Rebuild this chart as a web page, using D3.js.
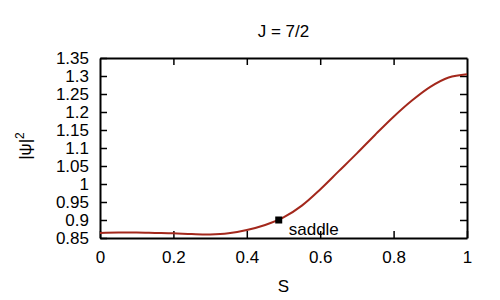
<!DOCTYPE html>
<html>
<head>
<meta charset="utf-8">
<script src="https://cdn.jsdelivr.net/npm/d3@7"></script>
<style>
  body { margin: 0; background: #fff; }
  text { font-family: "Liberation Sans", Arial, sans-serif; fill: #000; }
</style>
</head>
<body>
<div id="chart"></div>
<script>
const sValues = [0, 0.05, 0.1, 0.15, 0.2, 0.25, 0.3, 0.35, 0.4, 0.45, 0.5, 0.55, 0.6, 0.65, 0.7, 0.75, 0.8, 0.85, 0.9, 0.95, 1.0];
const psiValues = [0.864, 0.865, 0.865, 0.864, 0.863, 0.861, 0.860, 0.863, 0.872, 0.886, 0.907, 0.940, 0.985, 1.035, 1.085, 1.137, 1.187, 1.232, 1.270, 1.296, 1.305];
const saddle = [0.487, 0.9];
const xTicks = [0, 0.2, 0.4, 0.6, 0.8, 1];
const yTicks = [0.85, 0.9, 0.95, 1, 1.05, 1.1, 1.15, 1.2, 1.25, 1.3, 1.35];

const data = sValues.map((s, i) => ({s: s, v: psiValues[i]}));

const dimensions = {
    width: 500,
    height: 300,
    margin: {left: 100, right: 33, top: 58, bottom: 62},
};
dimensions.boundedWidth = dimensions.width - dimensions.margin.left - dimensions.margin.right;
dimensions.boundedHeight = dimensions.height - dimensions.margin.top - dimensions.margin.bottom;

const svg = d3.select("#chart").append("svg")
    .attr("width", dimensions.width)
    .attr("height", dimensions.height);

const bounds = svg.append("g")
    .attr("transform", `translate(${dimensions.margin.left},${dimensions.margin.top})`);

const xScale = d3.scaleLinear().domain([0, 1]).range([0, dimensions.boundedWidth]);
const yScale = d3.scaleLinear().domain([0.85, 1.35]).range([dimensions.boundedHeight, 0]);

const tickLen = 7;
const fontSize = 17;
const fmt = d => String(d);

// axes with inward ticks on all four sides
const xBottom = bounds.append("g")
    .attr("transform", `translate(0,${dimensions.boundedHeight})`)
    .call(d3.axisBottom(xScale).tickValues(xTicks).tickFormat(fmt).tickSizeInner(-tickLen).tickSizeOuter(0).tickPadding(13));
const xTop = bounds.append("g")
    .call(d3.axisTop(xScale).tickValues(xTicks).tickFormat("").tickSizeInner(-tickLen).tickSizeOuter(0));
const yLeft = bounds.append("g")
    .call(d3.axisLeft(yScale).tickValues(yTicks).tickFormat(fmt).tickSizeInner(-tickLen).tickSizeOuter(0).tickPadding(11));
const yRight = bounds.append("g")
    .attr("transform", `translate(${dimensions.boundedWidth},0)`)
    .call(d3.axisRight(yScale).tickValues(yTicks).tickFormat("").tickSizeInner(-tickLen).tickSizeOuter(0));

[xBottom, xTop, yLeft, yRight].forEach(a => {
    a.select(".domain").attr("stroke", "#000").attr("stroke-width", 2);
    a.selectAll(".tick line").attr("stroke", "#000").attr("stroke-width", 1.5);
    a.selectAll("text").attr("font-size", fontSize).attr("font-family", "Liberation Sans, Arial, sans-serif").attr("fill", "#000");
});
// drop first/last ticks on frame corners
xTop.selectAll(".tick").filter(d => d === 0 || d === 1).select("line").remove();
yRight.selectAll(".tick").filter(d => d === 0.85 || d === 1.35).select("line").remove();

const line = d3.line()
    .x(d => xScale(d.s))
    .y(d => yScale(d.v))
    .curve(d3.curveCatmullRom.alpha(0.5));

bounds.append("path")
    .datum(data)
    .attr("d", line)
    .attr("fill", "none")
    .attr("stroke", "#a3281c")
    .attr("stroke-width", 2);

bounds.append("rect")
    .attr("x", xScale(saddle[0]) - 3.5)
    .attr("y", yScale(saddle[1]) - 3.5)
    .attr("width", 7)
    .attr("height", 7)
    .attr("fill", "#000");

bounds.append("text")
    .attr("x", xScale(saddle[0]) + 10)
    .attr("y", yScale(saddle[1]) + 15)
    .attr("font-size", fontSize)
    .text("saddle");

svg.append("text")
    .attr("x", dimensions.margin.left + dimensions.boundedWidth / 2)
    .attr("y", 37)
    .attr("text-anchor", "middle")
    .attr("font-size", fontSize)
    .text("J = 7/2");

svg.append("text")
    .attr("x", dimensions.margin.left + dimensions.boundedWidth / 2)
    .attr("y", 292)
    .attr("text-anchor", "middle")
    .attr("font-size", fontSize)
    .text("S");

svg.append("text")
    .attr("transform", "translate(31,146) rotate(-90)")
    .attr("text-anchor", "middle")
    .attr("font-size", fontSize)
    .html("|ψ|<tspan baseline-shift=\"super\" font-size=\"12\">2</tspan>");
</script>
</body>
</html>
